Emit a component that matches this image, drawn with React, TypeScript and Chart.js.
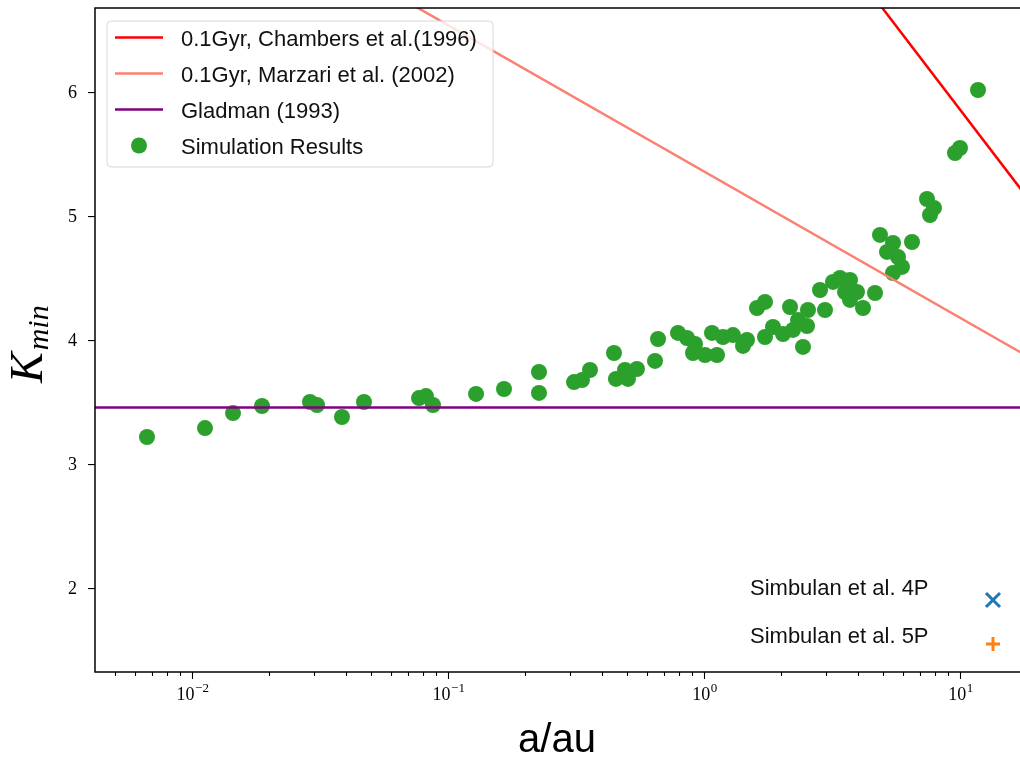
import React, { useEffect, useRef } from 'react';
import { Chart, registerables } from 'chart.js';

Chart.register(...registerables);

// ---- data (a in au, K_min) ----
const SIM_A = [
  0.00667, 0.01124, 0.01446, 0.01877, 0.0289, 0.03078, 0.03853, 0.04697, 0.07703, 0.08204,
  0.08737, 0.1287, 0.1655, 0.2267, 0.2267, 0.3106, 0.3338, 0.3586, 0.4451, 0.453,
  0.4913, 0.5048, 0.5471, 0.6437, 0.6613, 0.7916, 0.8583, 0.9222, 0.9059, 1.009,
  1.0746, 1.124, 1.186, 1.298, 1.42, 1.472, 1.611, 1.731, 1.731, 1.86,
  2.035, 2.168, 2.227, 2.329, 2.436, 2.526, 2.548, 2.839, 2.97, 3.191,
  3.398, 3.718, 3.555, 3.718, 3.959, 4.179, 4.656, 4.87, 5.186, 5.474,
  6.494, 5.725, 5.934, 5.474, 7.431, 7.914, 7.635, 9.561, 10.0, 11.76,
];
const SIM_K = [
  3.226, 3.298, 3.419, 3.476, 3.508, 3.484, 3.387, 3.508, 3.54, 3.556,
  3.484, 3.573, 3.613, 3.75, 3.581, 3.669, 3.685, 3.766, 3.903, 3.694,
  3.766, 3.694, 3.774, 3.839, 4.016, 4.065, 4.024, 3.976, 3.903, 3.887,
  4.065, 3.887, 4.032, 4.048, 3.96, 4.008, 4.266, 4.315, 4.032, 4.113,
  4.056, 4.274, 4.089, 4.169, 3.952, 4.121, 4.25, 4.411, 4.25, 4.476,
  4.508, 4.492, 4.395, 4.331, 4.395, 4.266, 4.387, 4.855, 4.718, 4.79,
  4.798, 4.677, 4.597, 4.548, 5.145, 5.073, 5.016, 5.516, 5.556, 6.024,
];

const CHAMBERS_A = [3, 20];
const CHAMBERS_K = [7.278, 5.053];
const MARZARI_A = [0.05, 20];
const MARZARI_K = [6.902, 3.832];
const GLADMAN_A = [0.003, 20];
const GLADMAN_K = [3.464, 3.464];

const SERIES_LABELS = [
  '0.1Gyr, Chambers et al.(1996)',
  '0.1Gyr, Marzari et al. (2002)',
  'Gladman (1993)',
  'Simulation Results',
];
const EXTRA_LABELS = ['Simbulan et al. 4P', 'Simbulan et al. 5P'];

const X_MAJOR = [0.01, 0.1, 1, 10];
const X_MAJOR_EXP = ['\u22122', '\u22121', '0', '1'];
const X_DECADES = [0.001, 0.01, 0.1, 1, 10];
const X_MINOR_MULT = [2, 3, 4, 5, 6, 7, 8, 9];
const Y_TICKS = [2, 3, 4, 5, 6];

const X_MIN = 0.004179;
const X_MAX = 17.31;
const Y_MIN = 1.331;
const Y_MAX = 6.685;

const SANS = '"Liberation Sans", Arial, sans-serif';
const SERIF = '"Liberation Serif", "DejaVu Serif", serif';

const toPts = (xs: number[], ys: number[]) => xs.map((x, i) => ({ x, y: ys[i] }));

const decorPlugin = {
  id: 'decor',
  afterDraw(chart: any) {
    const ctx: CanvasRenderingContext2D = chart.ctx;
    const { left, right, top, bottom } = chart.chartArea;
    const xs = chart.scales.x;
    ctx.save();

    // x ticks
    ctx.strokeStyle = '#000';
    ctx.lineWidth = 1.1;
    X_DECADES.forEach((d) => {
      X_MINOR_MULT.forEach((m) => {
        const v = d * m;
        if (v < X_MIN || v > X_MAX) return;
        const px = Math.round(xs.getPixelForValue(v)) + 0.5;
        ctx.beginPath();
        ctx.moveTo(px, bottom);
        ctx.lineTo(px, bottom + 4);
        ctx.stroke();
      });
    });
    X_MAJOR.forEach((v, i) => {
      const px = Math.round(xs.getPixelForValue(v)) + 0.5;
      ctx.beginPath();
      ctx.moveTo(px, bottom);
      ctx.lineTo(px, bottom + 7);
      ctx.stroke();
      ctx.fillStyle = '#000';
      ctx.font = `18px ${SERIF}`;
      const w1 = ctx.measureText('10').width;
      ctx.font = `13px ${SERIF}`;
      const w2 = ctx.measureText(X_MAJOR_EXP[i]).width;
      const x0 = px - (w1 + w2) / 2;
      ctx.textAlign = 'left';
      ctx.textBaseline = 'alphabetic';
      ctx.font = `18px ${SERIF}`;
      ctx.fillText('10', x0, 700);
      ctx.font = `13px ${SERIF}`;
      ctx.fillText(X_MAJOR_EXP[i], x0 + w1 + 0.5, 692);
    });

    // frame
    ctx.lineWidth = 1.5;
    ctx.strokeStyle = '#000';
    ctx.strokeRect(left, top, right - left, bottom - top);

    // axis titles
    ctx.fillStyle = '#000';
    ctx.font = `40px ${SANS}`;
    ctx.textAlign = 'center';
    ctx.fillText('a/au', 557, 752);

    ctx.save();
    ctx.translate(42, 383);
    ctx.rotate(-Math.PI / 2);
    ctx.textAlign = 'left';
    ctx.font = `italic 46px ${SERIF}`;
    ctx.fillText('K', 0, 0);
    const kw = ctx.measureText('K').width;
    ctx.font = `italic 30px ${SERIF}`;
    ctx.fillText('min', kw + 2, 6);
    ctx.restore();

    // legend (upper left)
    const ds = chart.data.datasets;
    const bx = 107, by = 21, bw = 386, bh = 146, r = 4;
    ctx.beginPath();
    ctx.moveTo(bx + r, by);
    ctx.arcTo(bx + bw, by, bx + bw, by + bh, r);
    ctx.arcTo(bx + bw, by + bh, bx, by + bh, r);
    ctx.arcTo(bx, by + bh, bx, by, r);
    ctx.arcTo(bx, by, bx + bw, by, r);
    ctx.closePath();
    ctx.fillStyle = 'rgba(255,255,255,0.8)';
    ctx.fill();
    ctx.strokeStyle = '#d6d6d6';
    ctx.lineWidth = 1;
    ctx.stroke();

    const rows = [37.5, 73.5, 109.5, 145.5];
    ctx.font = `22px ${SANS}`;
    ctx.textAlign = 'left';
    ctx.textBaseline = 'alphabetic';
    [0, 1, 2, 3].forEach((k) => {
      const d = ds[k];
      const cy = rows[k];
      if (k < 3) {
        ctx.strokeStyle = d.borderColor;
        ctx.lineWidth = d.borderWidth;
        ctx.beginPath();
        ctx.moveTo(115, cy);
        ctx.lineTo(163, cy);
        ctx.stroke();
      } else {
        ctx.fillStyle = d.backgroundColor;
        ctx.beginPath();
        ctx.arc(139, cy, 8, 0, Math.PI * 2);
        ctx.fill();
      }
      ctx.fillStyle = '#111';
      ctx.fillText(d.label, 181, cy + 8);
    });

    // second legend (lower right)
    ctx.fillStyle = '#111';
    ctx.fillText(EXTRA_LABELS[0], 750, 595);
    ctx.fillText(EXTRA_LABELS[1], 750, 643);
    ctx.lineWidth = 3;
    ctx.lineCap = 'butt';
    ctx.strokeStyle = '#1f77b4';
    ctx.beginPath();
    ctx.moveTo(986, 593); ctx.lineTo(1000, 607);
    ctx.moveTo(1000, 593); ctx.lineTo(986, 607);
    ctx.stroke();
    ctx.strokeStyle = '#ff7f0e';
    ctx.beginPath();
    ctx.moveTo(993, 637); ctx.lineTo(993, 651);
    ctx.moveTo(986, 644); ctx.lineTo(1000, 644);
    ctx.stroke();

    ctx.restore();
  },
};

export default function App() {
  const ref = useRef<HTMLCanvasElement | null>(null);

  useEffect(() => {
    if (!ref.current) return;
    const chart = new Chart(ref.current, {
      type: 'scatter',
      data: {
        datasets: [
          {
            label: SERIES_LABELS[0],
            data: toPts(CHAMBERS_A, CHAMBERS_K),
            showLine: true,
            borderColor: '#ff0000',
            backgroundColor: '#ff0000',
            borderWidth: 2.5,
            pointRadius: 0,
            order: 1,
          },
          {
            label: SERIES_LABELS[1],
            data: toPts(MARZARI_A, MARZARI_K),
            showLine: true,
            borderColor: '#fa8072',
            backgroundColor: '#fa8072',
            borderWidth: 2.5,
            pointRadius: 0,
            order: 2,
          },
          {
            label: SERIES_LABELS[2],
            data: toPts(GLADMAN_A, GLADMAN_K),
            showLine: true,
            borderColor: '#800080',
            backgroundColor: '#800080',
            borderWidth: 2.5,
            pointRadius: 0,
            order: 3,
          },
          {
            label: SERIES_LABELS[3],
            data: toPts(SIM_A, SIM_K),
            showLine: false,
            borderColor: '#2ca02c',
            backgroundColor: '#2ca02c',
            borderWidth: 0,
            pointRadius: 8,
            pointHoverRadius: 8,
            order: 10,
          },
        ],
      } as any,
      options: {
        animation: false,
        responsive: false,
        maintainAspectRatio: false,
        devicePixelRatio: 1,
        layout: { autoPadding: false, padding: { left: 0, top: 8, right: 3, bottom: 0 } },
        plugins: { legend: { display: false }, tooltip: { enabled: false } },
        scales: {
          x: {
            type: 'logarithmic',
            min: X_MIN,
            max: X_MAX,
            ticks: { display: false },
            grid: { display: false },
            border: { display: false },
            afterFit: (s: any) => {
              s.height = 91;
              s.paddingLeft = 0; s.paddingRight = 0; s.paddingTop = 0; s.paddingBottom = 0;
            },
          },
          y: {
            type: 'linear',
            min: Y_MIN,
            max: Y_MAX,
            afterBuildTicks: (s: any) => { s.ticks = Y_TICKS.map((v) => ({ value: v })); },
            ticks: { color: '#000', font: { family: SERIF, size: 18 }, padding: 11 },
            grid: { drawOnChartArea: false, drawTicks: true, tickLength: 7, color: '#000', lineWidth: 1.1 },
            border: { display: false },
            afterFit: (s: any) => {
              s.width = 95;
              s.paddingLeft = 0; s.paddingRight = 0; s.paddingTop = 0; s.paddingBottom = 0;
            },
          },
        },
      } as any,
      plugins: [decorPlugin],
    });
    return () => chart.destroy();
  }, []);

  return (
    <div style={{ position: 'absolute', left: 0, top: 0, width: 1020, height: 763, overflow: 'hidden', background: '#fff' }}>
      <div style={{ position: 'relative', width: 1024, height: 763 }}>
        <canvas ref={ref} width={1024} height={763} style={{ display: 'block', width: 1024, height: 763 }} />
      </div>
    </div>
  );
}
